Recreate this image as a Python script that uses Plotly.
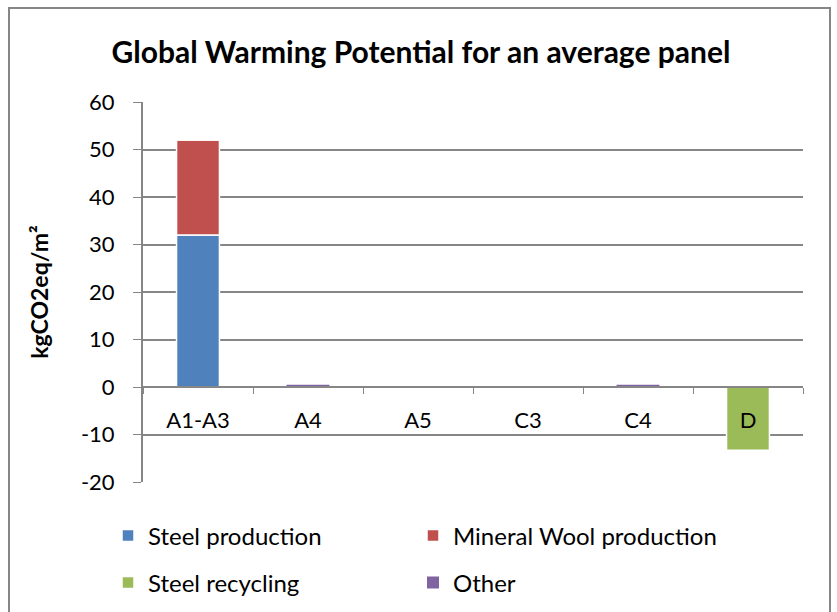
import plotly.graph_objects as go

categories = ["A1-A3", "A4", "A5", "C3", "C4", "D"]
steel_production = [32.0, 0, 0, 0, 0, 0]
mineral_wool_production = [20.0, 0, 0, 0, 0, 0]
steel_recycling = [0, 0, 0, -0.1, 0, -13.3]
other = [0, 0.45, 0, 0, 0.45, 0]
y_ticks = [-20, -10, 0, 10, 20, 30, 40, 50, 60]
y_tick_labels = ["-20", "-10", "0", "10", "20", "30", "40", "50", "60"]

series = [
    ("Steel production", steel_production, "#4F81BD", "legend", 1.5),
    ("Mineral Wool production", mineral_wool_production, "#C0504D", "legend", 1.5),
    ("Steel recycling", steel_recycling, "#9BBB59", "legend2", 1.5),
    ("Other", other, "#8064A2", "legend2", 0),
]

FONT = "Lato"
fig = go.Figure()
for name, vals, col, leg, lw in series:
    fig.add_trace(go.Bar(
        x=categories, y=vals, name=name, legend=leg,
        marker=dict(color=col, line=dict(color="white", width=lw)),
    ))

W, H = 837, 612
L, R, T, B = 143, 34, 102, 130
pw, ph = W - L - R, H - T - B

def px_x(p):
    return (p - L) / pw

def px_y(p):
    return (H - B - p) / ph

leg_common = dict(
    orientation="h", x=px_x(108), xanchor="left", yanchor="middle",
    entrywidth=260, entrywidthmode="pixels",
    font=dict(family=FONT, size=24, color="black"),
    traceorder="normal", bgcolor="rgba(0,0,0,0)",
)

fig.update_layout(
    width=W, height=H,
    margin=dict(l=L, r=R, t=T, b=B, autoexpand=False),
    barmode="relative",
    bargap=0.61,
    paper_bgcolor="white",
    plot_bgcolor="white",
    font=dict(family=FONT, size=22, color="black"),
    title=dict(text="<b>Global Warming Potential for an average panel</b>",
               x=px_x(421), xref="paper", y=1 - 52 / H, yref="container",
               xanchor="center", yanchor="middle",
               font=dict(family=FONT, size=30, color="black")),
    xaxis=dict(
        type="category", anchor="free", position=0.25,
        showline=True, linecolor="#868686", linewidth=2,
        ticks="outside", tickson="boundaries", ticklen=6, tickcolor="#868686",
        ticklabelstandoff=14,
        showgrid=False, zeroline=False,
        tickfont=dict(family=FONT, size=22, color="black"),
    ),
    yaxis=dict(
        range=[-20, 60], tickmode="array", tickvals=y_ticks, ticktext=y_tick_labels,
        showline=True, linecolor="#868686", linewidth=2,
        ticks="outside", ticklen=8, tickcolor="#868686",
        ticklabelstandoff=14,
        showgrid=True, gridcolor="#868686", gridwidth=1.5,
        zeroline=False,
        tickfont=dict(family=FONT, size=22, color="black"),
        title=dict(text="<b>kgCO2eq/m²</b>", standoff=26,
                   font=dict(family=FONT, size=23, color="black")),
    ),
    legend=dict(y=px_y(536), **leg_common),
    legend2=dict(y=px_y(583), **leg_common),
    shapes=[dict(type="rect", xref="paper", yref="paper",
                 x0=px_x(9), x1=px_x(830), y0=px_y(640), y1=px_y(8),
                 line=dict(color="#868686", width=2), fillcolor="rgba(0,0,0,0)",
                 layer="below")],
)

fig.write_html("out.html")
